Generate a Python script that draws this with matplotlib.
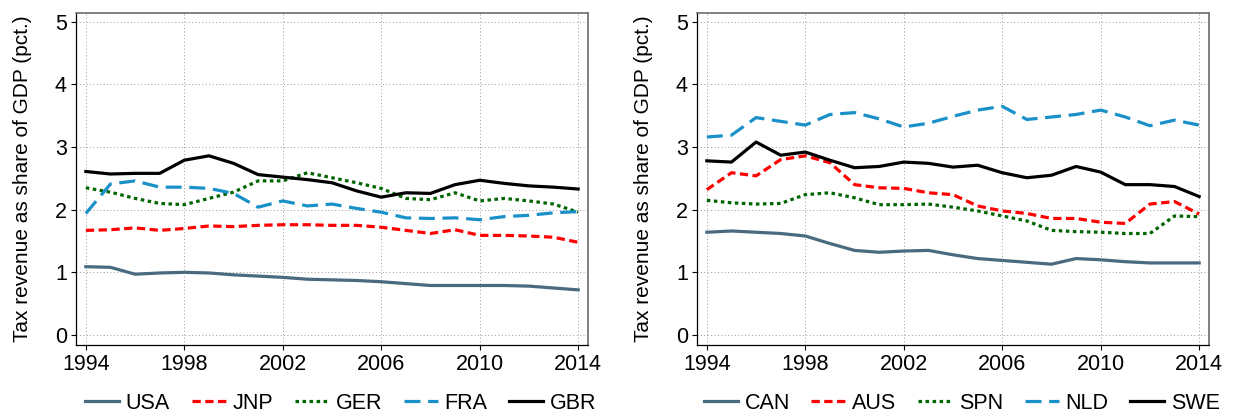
import numpy as np
import matplotlib
matplotlib.use("Agg")
import matplotlib.pyplot as plt

plt.rcParams['font.family'] = ['Liberation Sans', 'DejaVu Sans']

years = list(range(1994, 2015))
xticks = [1994, 1998, 2002, 2006, 2010, 2014]
yticks = [0, 1, 2, 3, 4, 5]

# left panel
usa = [1.09, 1.08, 0.97, 0.99, 1.00, 0.99, 0.96, 0.94, 0.92, 0.89, 0.88,
       0.87, 0.85, 0.82, 0.79, 0.79, 0.79, 0.79, 0.78, 0.75, 0.72]
jnp = [1.67, 1.68, 1.71, 1.67, 1.70, 1.74, 1.73, 1.75, 1.76, 1.76, 1.75,
       1.75, 1.72, 1.67, 1.62, 1.68, 1.59, 1.59, 1.58, 1.56, 1.48]
ger = [2.35, 2.28, 2.18, 2.10, 2.08, 2.18, 2.28, 2.46, 2.46, 2.59, 2.51,
       2.43, 2.34, 2.18, 2.16, 2.27, 2.14, 2.18, 2.14, 2.09, 1.96]
fra = [1.94, 2.41, 2.46, 2.36, 2.36, 2.34, 2.26, 2.04, 2.14, 2.06, 2.09,
       2.02, 1.96, 1.87, 1.86, 1.87, 1.84, 1.89, 1.91, 1.95, 1.97]
gbr = [2.61, 2.57, 2.58, 2.58, 2.79, 2.86, 2.74, 2.56, 2.52, 2.48, 2.43,
       2.30, 2.20, 2.27, 2.26, 2.40, 2.47, 2.42, 2.38, 2.36, 2.33]

# right panel
can = [1.64, 1.66, 1.64, 1.62, 1.58, 1.46, 1.35, 1.32, 1.34, 1.35, 1.28,
       1.22, 1.19, 1.16, 1.13, 1.22, 1.20, 1.17, 1.15, 1.15, 1.15]
aus = [2.32, 2.59, 2.54, 2.80, 2.86, 2.75, 2.40, 2.35, 2.34, 2.27, 2.24,
       2.06, 1.98, 1.94, 1.86, 1.86, 1.80, 1.78, 2.09, 2.13, 1.93]
spn = [2.15, 2.11, 2.09, 2.10, 2.24, 2.27, 2.19, 2.08, 2.08, 2.09, 2.04,
       1.98, 1.90, 1.82, 1.67, 1.65, 1.64, 1.62, 1.62, 1.90, 1.89]
nld = [3.16, 3.19, 3.47, 3.41, 3.35, 3.52, 3.55, 3.45, 3.32, 3.38, 3.49,
       3.59, 3.65, 3.44, 3.48, 3.52, 3.59, 3.48, 3.34, 3.43, 3.35]
swe = [2.78, 2.76, 3.08, 2.87, 2.92, 2.79, 2.67, 2.69, 2.76, 2.74, 2.68,
       2.71, 2.59, 2.51, 2.55, 2.69, 2.60, 2.40, 2.40, 2.37, 2.21]

left_series = [("USA", usa), ("JNP", jnp), ("GER", ger), ("FRA", fra), ("GBR", gbr)]
right_series = [("CAN", can), ("AUS", aus), ("SPN", spn), ("NLD", nld), ("SWE", swe)]

styles = [
    dict(color="#4a6a80", linestyle="-"),
    dict(color="#ff0000", linestyle=(0, (2.6, 1.4))),
    dict(color="#006400", linestyle=(0, (1.1, 1.1))),
    dict(color="#1a90c8", linestyle=(0, (5.0, 2.4))),
    dict(color="#000000", linestyle="-"),
]

fig = plt.figure(figsize=(12.33, 4.16), dpi=100)
W, H = 1233, 416


def draw_panel(left_px, series):
    ax = fig.add_axes([left_px / W, (H - 345) / H, 512 / W, 332 / H])
    for (name, vals), st in zip(series, styles):
        ax.plot(years, vals, label=name, linewidth=2.3, **st)
    ax.set_xlim(1993.6, 2014.4)
    ax.set_ylim(-0.16, 5.14)
    ax.set_xticks(xticks)
    ax.set_yticks(yticks)
    ax.grid(True, linestyle=(0, (1, 2.5)), color="#999999", linewidth=0.7)
    ax.tick_params(direction="out", length=3.6, width=0.8, labelsize=15.5, pad=3)
    for s in ["left", "bottom"]:
        ax.spines[s].set_color("black")
        ax.spines[s].set_linewidth(0.9)
    for s in ["top", "right"]:
        ax.spines[s].set_color("#777777")
        ax.spines[s].set_linewidth(1.3)
    ax.set_ylabel("Tax revenue as share of GDP (pct.)", fontsize=15, labelpad=16)
    ax.legend(loc="center", bbox_to_anchor=(0.517, -0.175), ncol=5,
              frameon=False, fontsize=15.5, handlelength=1.6, columnspacing=1.0,
              handletextpad=0.3, borderaxespad=0, borderpad=0)
    return ax


draw_panel(76, left_series)
draw_panel(697, right_series)

fig.savefig("out.png", dpi=100)
